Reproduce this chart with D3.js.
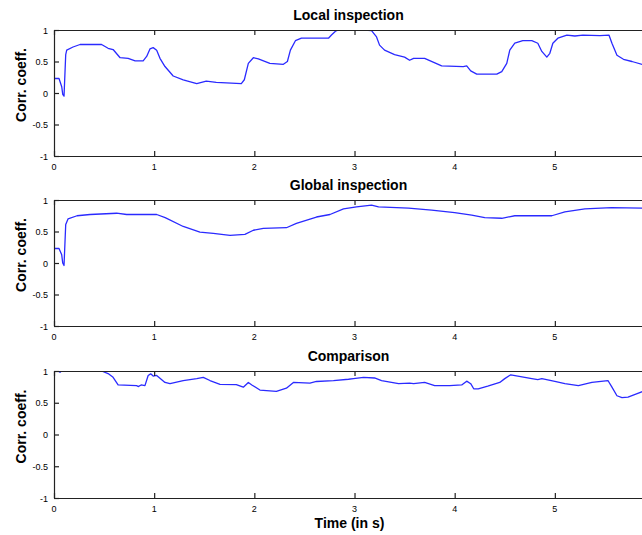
<!DOCTYPE html>
<html>
<head>
<meta charset="utf-8">
<script src="https://cdn.jsdelivr.net/npm/d3@7"></script>
<style>
  html, body { margin: 0; padding: 0; background: #fff; }
  svg { display: block; }
  .tick-label { font-family: "Liberation Sans", Arial, sans-serif; font-size: 9px; fill: #000; }
  .title, .xlabel, .ylabel { font-family: "Liberation Sans", Arial, sans-serif; font-weight: bold; font-size: 14px; fill: #000; }
</style>
</head>
<body>
<script>
// Time axis (seconds) and correlation coefficient series for each inspection mode
const localT = [0, 0.05, 0.077, 0.087, 0.10, 0.117, 0.127, 0.19, 0.26, 0.475, 0.54, 0.59, 0.66, 0.74, 0.81, 0.89, 0.925, 0.958, 0.99, 1.025, 1.058, 1.108, 1.19, 1.29, 1.425, 1.52, 1.62, 1.87, 1.90, 1.94, 1.99, 2.04, 2.155, 2.29, 2.33, 2.36, 2.41, 2.47, 2.74, 2.77, 2.81, 2.84, 3.10, 3.17, 3.22, 3.25, 3.30, 3.40, 3.50, 3.55, 3.59, 3.70, 3.785, 3.87, 4.085, 4.12, 4.16, 4.22, 4.42, 4.47, 4.52, 4.55, 4.60, 4.68, 4.77, 4.83, 4.87, 4.92, 4.95, 4.98, 5.03, 5.12, 5.20, 5.28, 5.45, 5.54, 5.57, 5.62, 5.685, 5.77, 5.88];
const localR = [0.23, 0.23, 0.10, -0.02, -0.05, 0.61, 0.68, 0.73, 0.77, 0.77, 0.71, 0.69, 0.56, 0.55, 0.51, 0.51, 0.58, 0.70, 0.72, 0.68, 0.55, 0.42, 0.27, 0.21, 0.15, 0.19, 0.17, 0.15, 0.21, 0.47, 0.56, 0.54, 0.47, 0.455, 0.50, 0.68, 0.83, 0.87, 0.87, 0.92, 0.98, 1.0, 1.0, 0.99, 0.89, 0.76, 0.68, 0.61, 0.57, 0.52, 0.55, 0.55, 0.49, 0.43, 0.42, 0.43, 0.35, 0.30, 0.30, 0.34, 0.47, 0.68, 0.79, 0.83, 0.83, 0.79, 0.66, 0.57, 0.63, 0.79, 0.87, 0.92, 0.905, 0.92, 0.91, 0.92, 0.79, 0.60, 0.535, 0.50, 0.45];

const globalT = [0, 0.05, 0.077, 0.087, 0.10, 0.117, 0.14, 0.23, 0.36, 0.625, 0.725, 1.025, 1.11, 1.29, 1.457, 1.59, 1.757, 1.906, 1.99, 2.09, 2.32, 2.42, 2.62, 2.755, 2.89, 3.02, 3.17, 3.24, 3.54, 3.77, 4.00, 4.17, 4.30, 4.47, 4.60, 4.97, 5.10, 5.30, 5.565, 5.88];
const globalR = [0.23, 0.23, 0.13, 0.0, -0.04, 0.61, 0.70, 0.75, 0.77, 0.79, 0.77, 0.77, 0.72, 0.58, 0.49, 0.47, 0.44, 0.455, 0.52, 0.55, 0.56, 0.63, 0.73, 0.77, 0.86, 0.89, 0.92, 0.89, 0.87, 0.84, 0.80, 0.76, 0.72, 0.71, 0.75, 0.75, 0.81, 0.86, 0.88, 0.87];

const compT = [0, 0.045, 0.06, 0.075, 0.475, 0.54, 0.59, 0.64, 0.825, 0.84, 0.87, 0.908, 0.94, 0.965, 0.99, 1.025, 1.108, 1.158, 1.29, 1.425, 1.49, 1.557, 1.657, 1.82, 1.89, 1.94, 1.975, 2.056, 2.22, 2.32, 2.39, 2.555, 2.62, 2.79, 2.94, 2.99, 3.09, 3.20, 3.27, 3.44, 3.55, 3.59, 3.70, 3.80, 3.95, 4.07, 4.12, 4.16, 4.19, 4.235, 4.33, 4.45, 4.50, 4.56, 4.63, 4.77, 4.83, 4.87, 5.00, 5.10, 5.235, 5.37, 5.53, 5.57, 5.62, 5.67, 5.73, 5.815, 5.88];
const compR = [1.0, 1.0, 0.98, 1.0, 1.0, 0.96, 0.90, 0.78, 0.77, 0.755, 0.78, 0.77, 0.93, 0.955, 0.92, 0.93, 0.82, 0.80, 0.85, 0.88, 0.90, 0.85, 0.79, 0.785, 0.745, 0.82, 0.78, 0.70, 0.68, 0.73, 0.82, 0.81, 0.835, 0.85, 0.87, 0.88, 0.90, 0.89, 0.85, 0.80, 0.81, 0.80, 0.82, 0.77, 0.77, 0.78, 0.84, 0.80, 0.72, 0.72, 0.76, 0.82, 0.88, 0.94, 0.92, 0.88, 0.865, 0.88, 0.835, 0.80, 0.77, 0.82, 0.85, 0.745, 0.61, 0.58, 0.59, 0.64, 0.68];

const xTicks = [0, 1, 2, 3, 4, 5];
const yTicks = [-1, -0.5, 0, 0.5, 1];
const yTickLabels = ["-1", "-0.5", "0", "0.5", "1"];
const panelTitles = ["Local inspection", "Global inspection", "Comparison"];
const yLabel = "Corr. coeff.";
const xLabel = "Time (in s)";

const W = 642, H = 535;
const svg = d3.select("body").append("svg").attr("width", W).attr("height", H);
const defs = svg.append("defs");

// Shared time scale; each panel has its own vertical extent
const x = d3.scaleLinear().domain([0, 5.88]).range([54, 643]);
const panels = [
  { title: panelTitles[0], t: localT, r: localR, top: 30, bottom: 156 },
  { title: panelTitles[1], t: globalT, r: globalR, top: 200, bottom: 326 },
  { title: panelTitles[2], t: compT, r: compR, top: 371, bottom: 498 }
];

panels.forEach((p, i) => {
  const y = d3.scaleLinear().domain([-1, 1]).range([p.bottom, p.top]);
  const g = svg.append("g");

  // Plot-area clip so values at the limit sit under the frame
  const clipId = `plot-clip-${i}`;
  defs.append("clipPath").attr("id", clipId)
    .append("rect")
    .attr("x", x(0)).attr("y", p.top + 0.6)
    .attr("width", W - x(0)).attr("height", p.bottom - p.top);

  // Data line
  const pts = p.t.map((t, k) => [t, p.r[k]]);
  g.append("path")
    .datum(pts)
    .attr("clip-path", `url(#${clipId})`)
    .attr("fill", "none")
    .attr("stroke", "#2a2aff")
    .attr("stroke-width", 1.3)
    .attr("stroke-linejoin", "round")
    .attr("d", d3.line().x(d => x(d[0])).y(d => y(d[1])));

  // Axes with inward ticks on all visible sides
  const bottomAxis = d3.axisBottom(x).tickValues(xTicks).tickSizeInner(-5).tickSizeOuter(0).tickFormat("");
  const topAxis = d3.axisTop(x).tickValues(xTicks).tickSizeInner(-5).tickSizeOuter(0).tickFormat("");
  const leftAxis = d3.axisLeft(y).tickValues(yTicks).tickSizeInner(-5).tickSizeOuter(0).tickFormat("");

  [
    g.append("g").attr("transform", `translate(0,${p.bottom})`).call(bottomAxis),
    g.append("g").attr("transform", `translate(0,${p.top})`).call(topAxis),
    g.append("g").attr("transform", `translate(${x(0)},0)`).call(leftAxis)
  ].forEach(a => {
    a.selectAll(".domain").attr("stroke", "#222").attr("stroke-width", 1.2);
    a.selectAll(".tick line").attr("stroke", "#222").attr("stroke-width", 1.2);
  });

  // Tick labels
  g.selectAll(".xt").data(xTicks).enter().append("text")
    .attr("class", "tick-label")
    .attr("x", d => x(d)).attr("y", p.bottom + 14)
    .attr("text-anchor", "middle")
    .text(d => d);
  g.selectAll(".yt").data(yTicks).enter().append("text")
    .attr("class", "tick-label")
    .attr("x", x(0) - 6).attr("y", d => y(d) + 3.5)
    .attr("text-anchor", "end")
    .text((d, k) => yTickLabels[k]);

  // Panel title
  g.append("text").attr("class", "title")
    .attr("x", 348.5).attr("y", p.top - 10)
    .attr("text-anchor", "middle")
    .text(p.title);

  // Vertical axis label
  const cy = (p.top + p.bottom) / 2 - 8;
  g.append("text").attr("class", "ylabel")
    .attr("transform", `translate(26,${cy}) rotate(-90)`)
    .attr("text-anchor", "middle")
    .text(yLabel);
});

svg.append("text").attr("class", "xlabel")
  .attr("x", 349.5).attr("y", 528)
  .attr("text-anchor", "middle")
  .text(xLabel);
</script>
</body>
</html>
